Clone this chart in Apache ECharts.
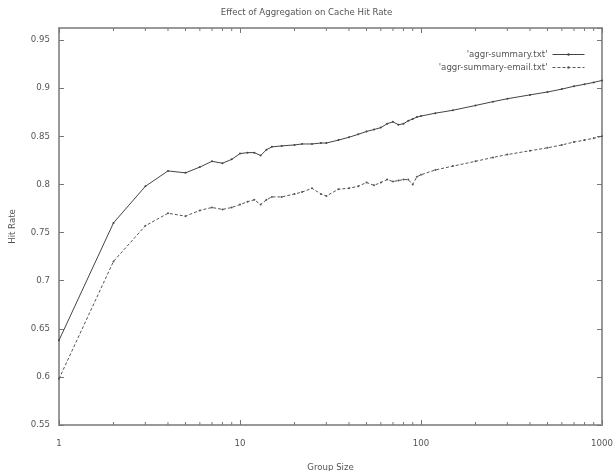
<!DOCTYPE html>
<html>
<head>
<meta charset="utf-8">
<script src="https://cdn.jsdelivr.net/npm/echarts@6/dist/echarts.min.js"></script>
<style>html,body{margin:0;padding:0;background:#fff}#c{width:613px;height:471px}</style>
</head>
<body>
<div id="c"></div>
<script>
var groupSizes = [1,2,3,4,5,6,7,8,9,10,11,12,13,14,15,17,20,22,25,28,30,35,40,45,50,55,60,65,70,75,80,85,90,95,100,120,150,200,250,300,400,500,600,700,800,900,1000];
var summaryHit = [0.638,0.760,0.798,0.814,0.812,0.818,0.824,0.822,0.826,0.832,0.833,0.833,0.830,0.836,0.839,0.840,0.841,0.842,0.842,0.843,0.843,0.846,0.849,0.852,0.855,0.857,0.859,0.863,0.865,0.862,0.863,0.866,0.868,0.870,0.871,0.874,0.877,0.882,0.886,0.889,0.893,0.896,0.899,0.902,0.904,0.906,0.908];
var emailHit = [0.598,0.720,0.757,0.770,0.767,0.773,0.776,0.774,0.776,0.779,0.782,0.784,0.779,0.784,0.787,0.787,0.790,0.792,0.796,0.790,0.788,0.795,0.796,0.798,0.802,0.799,0.802,0.805,0.803,0.804,0.805,0.805,0.800,0.808,0.810,0.815,0.819,0.824,0.828,0.831,0.835,0.838,0.841,0.844,0.846,0.848,0.850];
var minorTickValues = [2,3,4,5,6,7,8,9,20,30,40,50,60,70,80,90,200,300,400,500,600,700,800,900];
var seriesNames = ["'aggr-summary.txt'", "'aggr-summary-email.txt'"];
var titleText = 'Effect of Aggregation on Cache Hit Rate';
var xName = 'Group Size';
var yName = 'Hit Rate';

function pairs(xs, ys){ return xs.map(function(x,i){ return [x, ys[i]]; }); }

var chart = echarts.init(document.getElementById('c'));
var FS = 8.6;
var txt = {color:'#555', fontFamily:'DejaVu Sans', fontSize:FS};
var frame = {show:true, onZero:false, lineStyle:{color:'#999', width:2}};
var tick = {show:true, inside:true, length:5, lineStyle:{color:'#777'}};
chart.setOption({
  animation:false,
  backgroundColor:'#fff',
  title:{text:titleText, left:'center', top:3, textStyle:{color:'#555', fontFamily:'DejaVu Sans', fontSize:FS, fontWeight:'normal'}},
  legend:{
    right:23, top:45, orient:'vertical', align:'right', itemGap:4, itemWidth:32, itemHeight:3,
    textStyle:txt, lineStyle:{width:1}, itemStyle:{borderWidth:0},
    data:[{name:seriesNames[0]},{name:seriesNames[1]}]
  },
  grid:{left:59, right:11, top:28, bottom:46, outerBoundsMode:'none', containLabel:false},
  xAxis:[{
    type:'log', logBase:10, min:1, max:1000,
    name:xName, nameLocation:'middle', nameGap:38, nameTextStyle:txt,
    axisLine:frame, axisTick:tick,
    axisLabel:Object.assign({margin:14, formatter:function(v){return String(v);}}, txt),
    splitLine:{show:false}
  },{
    type:'log', logBase:10, min:1, max:1000, position:'top',
    axisLine:frame, axisTick:tick,
    axisLabel:{show:false}, splitLine:{show:false}
  }],
  yAxis:[{
    type:'value', min:0.55, max:0.9625, interval:0.05,
    name:yName, nameLocation:'middle', nameGap:42, nameRotate:90, nameTextStyle:txt,
    axisLine:frame, axisTick:tick,
    axisLabel:Object.assign({margin:9, showMaxLabel:false}, txt),
    splitLine:{show:false}
  },{
    type:'value', min:0.55, max:0.9625, interval:0.05, position:'right',
    axisLine:frame, axisTick:tick,
    axisLabel:{show:false}, splitLine:{show:false}
  }],
  series:[{
    name:seriesNames[0], type:'line', data:pairs(groupSizes, summaryHit),
    symbol:'circle', symbolSize:2, showSymbol:true,
    itemStyle:{color:'#444'}, lineStyle:{color:'#444', width:1}
  },{
    name:seriesNames[1], type:'line', data:pairs(groupSizes, emailHit),
    symbol:'circle', symbolSize:2, showSymbol:true,
    itemStyle:{color:'#555'}, lineStyle:{color:'#555', width:1, type:[3,2]}
  },{
    type:'custom', silent:true, data:minorTickValues.map(function(v){return [v];}),
    encode:{x:0},
    renderItem:function(params, api){
      var x = api.coord([api.value(0), 0.6])[0];
      var cs = params.coordSys;
      var top = cs.y, bot = cs.y + cs.height;
      return {type:'group', children:[
        {type:'line', shape:{x1:x, y1:bot, x2:x, y2:bot-3}, style:{stroke:'#777', lineWidth:1}},
        {type:'line', shape:{x1:x, y1:top, x2:x, y2:top+3}, style:{stroke:'#777', lineWidth:1}}
      ]};
    }
  }]
});
</script>
</body>
</html>
